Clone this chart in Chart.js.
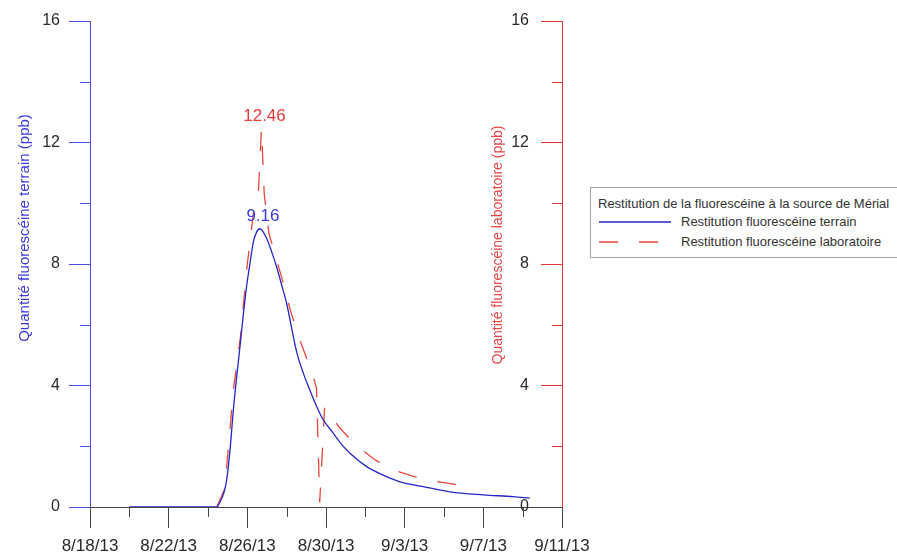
<!DOCTYPE html>
<html>
<head>
<meta charset="utf-8">
<title>Restitution de la fluorescéine</title>
<script src="https://cdn.jsdelivr.net/npm/chart.js@4.4.1/dist/chart.umd.min.js"></script>
<style>
  html, body { margin: 0; padding: 0; background: #fff; overflow: hidden; }
  #wrap { position: relative; width: 897px; height: 555px; }
  #legend {
    position: absolute; left: 590px; top: 187px; width: 330px; height: 69px;
    border: 1px solid #a3a3a3; background: #fff; color: #333;
    font-family: 'Liberation Sans', Arial, sans-serif; font-size: 13px;
  }
  #legend .head { position: absolute; left: 7px; top: 8px; line-height: 16px; white-space: nowrap; }
  #legend .row { position: absolute; left: 8px; height: 14px; white-space: nowrap; }
  #legend .row svg { position: absolute; left: 0; top: 2px; }
  #legend .row span { position: absolute; left: 82px; top: 0; line-height: 14px; }
</style>
</head>
<body>
<div id="wrap">
  <canvas id="restitutionChart" width="897" height="555"></canvas>
  <div id="legend"></div>
</div>
<script>
// Days counted from 8/18/13
const dateLabels = ['8/18/13', '8/22/13', '8/26/13', '8/30/13', '9/3/13', '9/7/13', '9/11/13'];

// Field probe (terrain), ppb
const terrainDays = [2.0, 6.45, 6.6, 6.8, 6.95, 7.12, 7.29, 7.46, 7.63, 7.79, 7.97, 8.13, 8.30, 8.47, 8.64,
  8.81, 8.98, 9.24, 9.49, 9.75, 10.0, 10.25, 10.51, 10.85, 11.18, 11.53, 11.85, 12.37, 12.71, 13.22,
  14.07, 14.91, 15.76, 16.95, 18.3, 20.0, 21.52, 22.37];
const terrainValues = [0, 0, 0.15, 0.45, 0.89, 1.88, 3.2, 4.3, 5.3, 6.3, 7.3, 8.0, 8.7, 9.05, 9.16,
  9.05, 8.85, 8.4, 7.9, 7.3, 6.7, 5.9, 5.1, 4.4, 3.85, 3.3, 2.88, 2.43, 2.13, 1.77,
  1.33, 1.05, 0.83, 0.67, 0.5, 0.4, 0.34, 0.29];

// Lab samples (laboratoire), ppb
const laboDays = [6.45, 6.85, 7.3, 7.65, 8.0, 8.35, 8.55, 8.72, 8.86, 9.1, 9.75, 10.2, 10.7, 11.35,
  11.52, 11.68, 11.93, 12.7, 13.5, 14.5, 15.5, 16.5, 17.5, 18.5, 19.3];
const laboValues = [0, 0.6, 3.9, 5.6, 8.0, 9.9, 10.2, 12.46, 10.3, 9.0, 7.55, 6.45, 5.45, 4.3,
  3.9, 0.15, 3.3, 2.6, 2.05, 1.55, 1.2, 1.0, 0.85, 0.75, 0.66];

const legendTitle = 'Restitution de la fluorescéine à la source de Mérial';

const BLUE = '#2626c8';
const BLUE_AXIS = '#4b4be6';
const RED = '#e8463c';
const RED_AXIS = '#e8343a';
const GREY_AXIS = '#444';

Chart.defaults.font.family = "'Liberation Sans', Arial, sans-serif";

const toPoints = (xs, ys) => xs.map((x, i) => ({ x: x, y: ys[i] }));

// long ticks every 4 units; the ones in between are drawn short by minorTicks
const isMinor = v => v % 4 !== 0;
const majorOnly = color => ctx => (ctx.tick && isMinor(ctx.tick.value)) ? 'rgba(0,0,0,0)' : color;

const minorTicks = {
    id: 'minorTicks',
    afterDraw(chart) {
        const ctx = chart.ctx;
        const area = chart.chartArea;
        const len = 10;
        const axes = [
            { id: 'x', color: GREY_AXIS },
            { id: 'y', color: BLUE_AXIS, edge: area.left },
            { id: 'y2', color: RED_AXIS, edge: area.right },
        ];
        ctx.save();
        ctx.lineWidth = 1;
        axes.forEach(a => {
            const scale = chart.scales[a.id];
            ctx.strokeStyle = a.color;
            ctx.beginPath();
            scale.ticks.forEach(t => {
                if (!isMinor(t.value)) return;
                const p = Math.round(scale.getPixelForValue(t.value)) + 0.5;
                if (a.id === 'x') {
                    ctx.moveTo(p, area.bottom);
                    ctx.lineTo(p, area.bottom + len);
                } else {
                    ctx.moveTo(a.edge, p);
                    ctx.lineTo(a.edge - len, p);
                }
            });
            ctx.stroke();
        });
        ctx.restore();
    }
};

// prints the maximum of each series above its peak
const peakLabels = {
    id: 'peakLabels',
    afterDatasetsDraw(chart) {
        const ctx = chart.ctx;
        chart.data.datasets.forEach((ds, i) => {
            const values = ds.data.map(p => p.y);
            const k = values.indexOf(Math.max(...values));
            const pt = chart.getDatasetMeta(i).data[k];
            ctx.save();
            ctx.font = "17px 'Liberation Sans', Arial, sans-serif";
            ctx.fillStyle = ds.labelColor;
            ctx.textAlign = 'center';
            ctx.textBaseline = 'bottom';
            ctx.fillText(values[k].toFixed(2), pt.x + 3, pt.y - 4);
            ctx.restore();
        });
    }
};

// vertical axis titles, both reading bottom to top
const axisTitles = {
    id: 'axisTitles',
    afterDraw(chart) {
        const ctx = chart.ctx;
        const area = chart.chartArea;
        const spots = {
            y: { x: area.left - 65, y: 228, size: 15 },
            y2: { x: area.right - 64, y: 245, size: 14 }
        };
        Object.keys(spots).forEach(id => {
            const t = chart.options.scales[id].title;
            const s = spots[id];
            ctx.save();
            ctx.translate(s.x, s.y);
            ctx.rotate(-Math.PI / 2);
            ctx.font = s.size + "px 'Liberation Sans', Arial, sans-serif";
            ctx.fillStyle = t.color;
            ctx.textAlign = 'center';
            ctx.textBaseline = 'middle';
            ctx.fillText(t.text, 0, 0);
            ctx.restore();
        });
    }
};

const ctxRestitution = document.getElementById('restitutionChart').getContext('2d');

const restitutionChart = new Chart(ctxRestitution, {
    type: 'line',
    data: {
        datasets: [{
            label: 'Restitution fluorescéine terrain',
            data: toPoints(terrainDays, terrainValues),
            borderColor: BLUE,
            labelColor: '#3b3bdc',
            borderWidth: 1.3,
            pointRadius: 0,
            cubicInterpolationMode: 'monotone',
            xAxisID: 'x',
            yAxisID: 'y',
        }, {
            label: 'Restitution fluorescéine laboratoire',
            data: toPoints(laboDays, laboValues),
            borderColor: RED,
            labelColor: '#e83c3c',
            borderWidth: 1.3,
            borderDash: [19, 21],
            pointRadius: 0,
            tension: 0,
            xAxisID: 'x',
            yAxisID: 'y2',
        }]
    },
    options: {
        responsive: false,
        animation: false,
        devicePixelRatio: 1,
        layout: {
            padding: { top: 21, right: 335, bottom: 0, left: 0 },
        },
        scales: {
            x: {
                type: 'linear',
                position: 'bottom',
                min: 0,
                max: 24,
                afterFit: s => { s.height = 48; },
                grid: {
                    drawOnChartArea: false,
                    tickLength: 21,
                    tickColor: majorOnly(GREY_AXIS),
                },
                border: { color: GREY_AXIS },
                ticks: {
                    stepSize: 2,
                    autoSkip: false,
                    maxRotation: 0,
                    padding: 8,
                    color: '#2a2a2a',
                    font: { size: 17 },
                    callback: v => isMinor(v) ? '' : dateLabels[v / 4],
                },
            },
            y: {
                type: 'linear',
                position: 'left',
                min: 0,
                max: 16,
                afterFit: s => { s.width = 90; },
                title: { display: false, text: 'Quantité fluorescéine terrain (ppb)', color: '#3b3bdc' },
                grid: {
                    drawOnChartArea: false,
                    tickLength: 21,
                    tickColor: majorOnly(BLUE_AXIS),
                },
                border: { color: BLUE_AXIS },
                ticks: {
                    stepSize: 2,
                    autoSkip: false,
                    padding: 9,
                    color: '#2a2a2a',
                    font: { size: 16 },
                    callback: v => isMinor(v) ? '' : v,
                },
            },
            y2: {
                type: 'linear',
                position: 'right',
                min: 0,
                max: 16,
                afterFit: s => { s.width = 0; },
                title: { display: false, text: 'Quantité fluorescéine laboratoire (ppb)', color: '#e84545' },
                grid: {
                    drawOnChartArea: false,
                    tickLength: -21,
                    tickColor: majorOnly(RED_AXIS),
                },
                border: { color: RED_AXIS },
                ticks: {
                    stepSize: 2,
                    autoSkip: false,
                    mirror: true,
                    padding: -33,
                    color: '#2a2a2a',
                    font: { size: 16 },
                    callback: v => isMinor(v) ? '' : v,
                },
            },
        },
        plugins: {
            legend: { display: false },
            tooltip: { enabled: false },
        },
    },
    plugins: [minorTicks, peakLabels, axisTitles],
});

// Legend box built from the datasets
function buildLegend(chart) {
    const box = document.getElementById('legend');
    const head = document.createElement('div');
    head.className = 'head';
    head.textContent = legendTitle;
    box.appendChild(head);
    chart.data.datasets.forEach((ds, i) => {
        const row = document.createElement('div');
        row.className = 'row';
        row.style.top = (27 + i * 20) + 'px';
        const dash = ds.borderDash ? ds.borderDash.join(' ') : 'none';
        row.innerHTML = '<svg width="74" height="10"><line x1="0" y1="5" x2="72" y2="5" stroke="' +
            ds.borderColor + '" stroke-width="1.3" stroke-dasharray="' + dash + '"/></svg>' +
            '<span></span>';
        row.querySelector('span').textContent = ds.label;
        box.appendChild(row);
    });
}
buildLegend(restitutionChart);
</script>
</body>
</html>
